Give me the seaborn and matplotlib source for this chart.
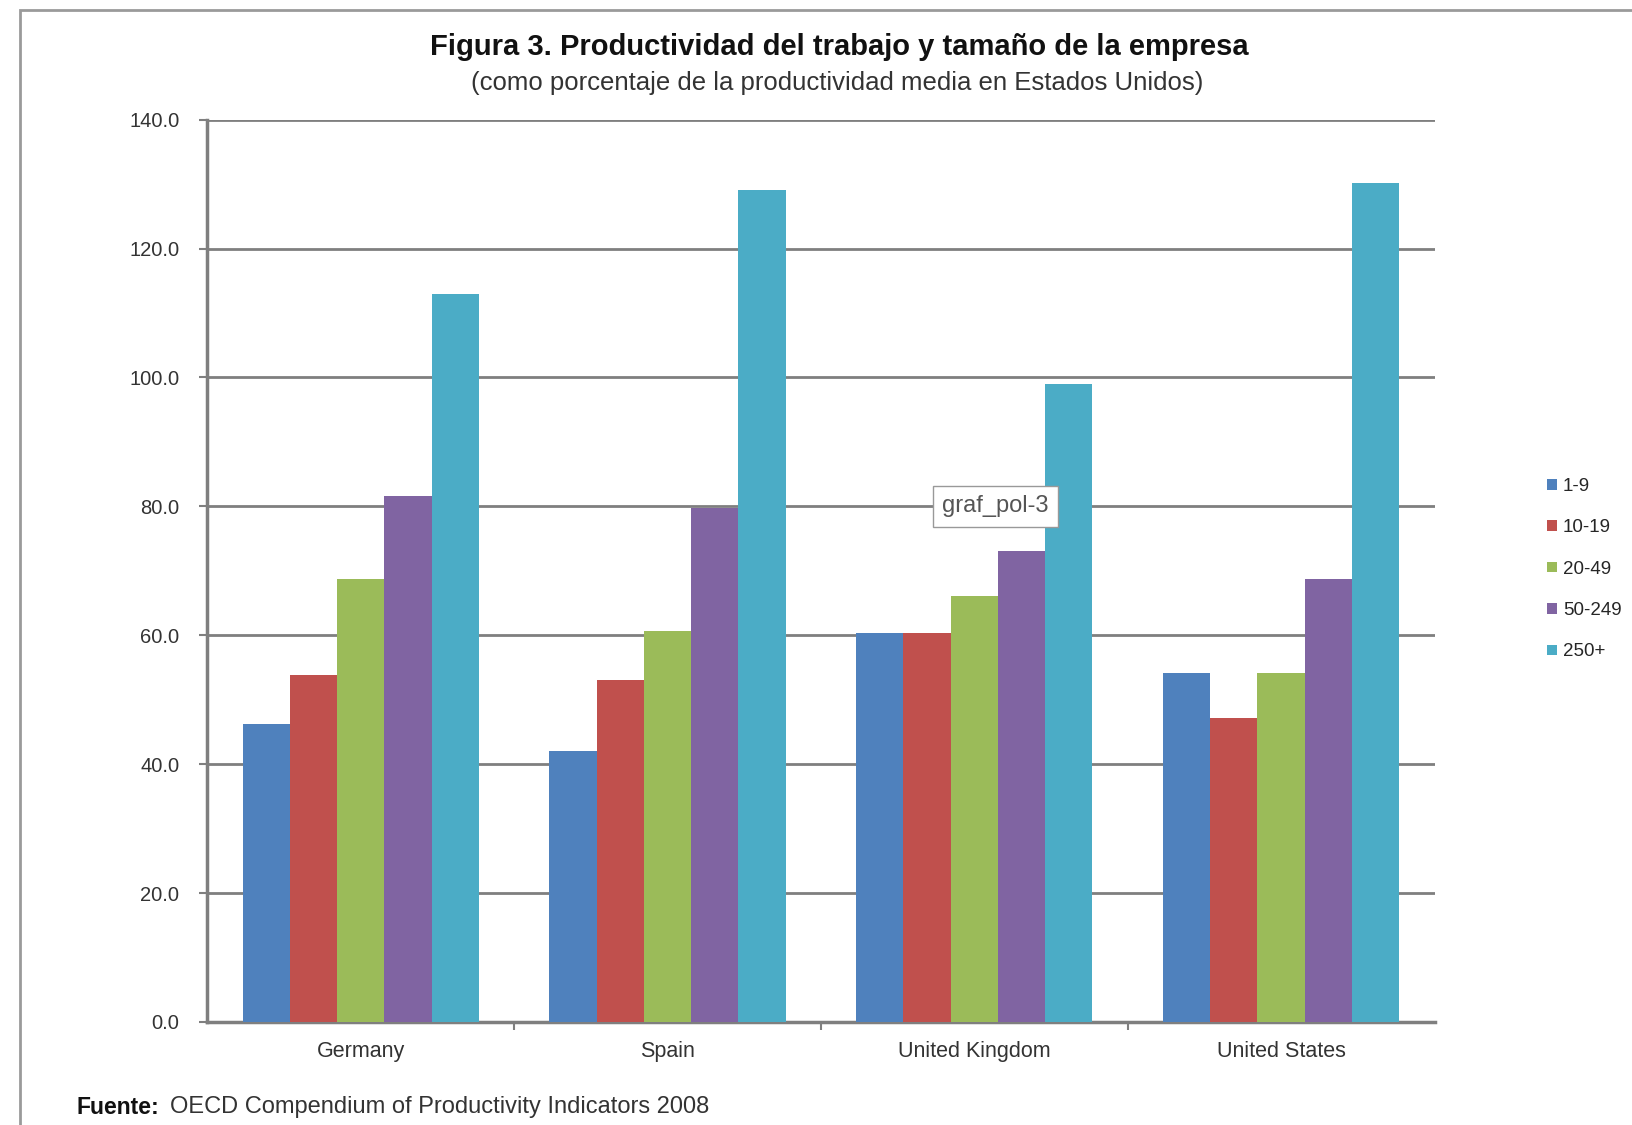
import matplotlib
matplotlib.use("Agg")
import matplotlib.pyplot as plt
from matplotlib.patches import Rectangle
import seaborn as sns
import pandas as pd

# ==========================================
# Data
# ==========================================
countries = ["Germany", "Spain", "United Kingdom", "United States"]
sizes = ["1-9", "10-19", "20-49", "50-249", "250+"]

vals_1_9 = [46.2, 42.0, 60.3, 54.1]
vals_10_19 = [53.8, 53.1, 60.3, 47.2]
vals_20_49 = [68.7, 60.6, 66.1, 54.1]
vals_50_249 = [81.6, 79.8, 73.0, 68.7]
vals_250 = [112.9, 129.1, 99.0, 130.2]

y_ticks = [0, 20, 40, 60, 80, 100, 120, 140]

colors = ["#4F81BD", "#C0504D", "#9BBB59", "#8064A2", "#4BACC6"]

title = "Figura 3. Productividad del trabajo y tamaño de la empresa"
subtitle = "(como porcentaje de la productividad media en Estados Unidos)"

# long table for seaborn
series = [vals_1_9, vals_10_19, vals_20_49, vals_50_249, vals_250]
rows = []
for size, vals in zip(sizes, series):
    for c, v in zip(countries, vals):
        rows.append({"country": c, "size": size, "value": v})
df = pd.DataFrame(rows)

# ==========================================
# Plot
# ==========================================
sns.set_style("white")
plt.rcParams["font.family"] = ["Liberation Sans", "DejaVu Sans"]

fig = plt.figure(figsize=(16.32, 11.25), dpi=100)
ax = fig.add_axes([0.127, 0.0916, 0.752, 0.802])

# light grey frame around the whole chart (as in the Excel export)
fig.patches.append(Rectangle((0.012, -0.05), 1.1, 1.041, transform=fig.transFigure,
                             fill=False, edgecolor="#9a9a9a", linewidth=2))

sns.barplot(data=df, x="country", y="value", hue="size", order=countries,
            hue_order=sizes, palette=colors, width=0.77, saturation=1,
            edgecolor="none", ax=ax, zorder=3)

ax.set_ylim(0, 140)
ax.set_xlim(-0.5, 3.5)
ax.set_yticks(y_ticks)
ax.set_yticklabels([f"{t:.1f}" for t in y_ticks], fontsize=14.5, color="#333333")
ax.set_xticklabels(countries, fontsize=15.5, color="#333333")
ax.set_xlabel("")
ax.set_ylabel("")

# gridlines
ax.yaxis.grid(True, color="#7f7f7f", linewidth=2, zorder=0)
ax.xaxis.grid(False)
for s in ["top", "right"]:
    ax.spines[s].set_visible(False)
for s in ["left", "bottom"]:
    ax.spines[s].set_color("#7f7f7f")
    ax.spines[s].set_linewidth(2.5)

# Excel style ticks: x ticks between the categories
ax.tick_params(axis="y", which="major", direction="out", length=6, width=1.5,
               color="#7f7f7f", left=True, pad=14)
ax.tick_params(axis="x", which="major", length=0, pad=14)
ax.set_xticks([0.5, 1.5, 2.5], minor=True)
ax.tick_params(axis="x", which="minor", direction="out", length=6, width=1.5,
               color="#7f7f7f", bottom=True)

# legend on the right (kept narrow so it fits in the figure)
handles, labels = ax.get_legend_handles_labels()
ax.legend(handles, labels, loc="center left", bbox_to_anchor=(0.948, 0.494),
          bbox_transform=fig.transFigure, frameon=False, fontsize=13.5,
          handlelength=0.5, handleheight=0.5, handletextpad=0.35, labelspacing=1.3,
          borderaxespad=0, borderpad=0)

# titles
fig.text(0.514, 0.958, title, ha="center", va="center", fontsize=21,
         fontweight="bold", color="#111111")
fig.text(0.513, 0.926, subtitle, ha="center", va="center", fontsize=18.5,
         color="#333333")

# source note
fig.text(0.047, 0.016, "Fuente:", ha="left", va="center", fontsize=16.5,
         fontweight="bold", color="#111111")
fig.text(0.104, 0.016, "OECD Compendium of Productivity Indicators 2008", ha="left",
         va="center", fontsize=17, color="#333333")

# tooltip label that appears in the screenshot
fig.text(0.61, 0.55, "graf_pol-3", ha="center", va="center", fontsize=17,
         color="#555555",
         bbox=dict(boxstyle="square,pad=0.4", facecolor="white", edgecolor="#999999"))

plt.savefig("out.png", dpi=100)
